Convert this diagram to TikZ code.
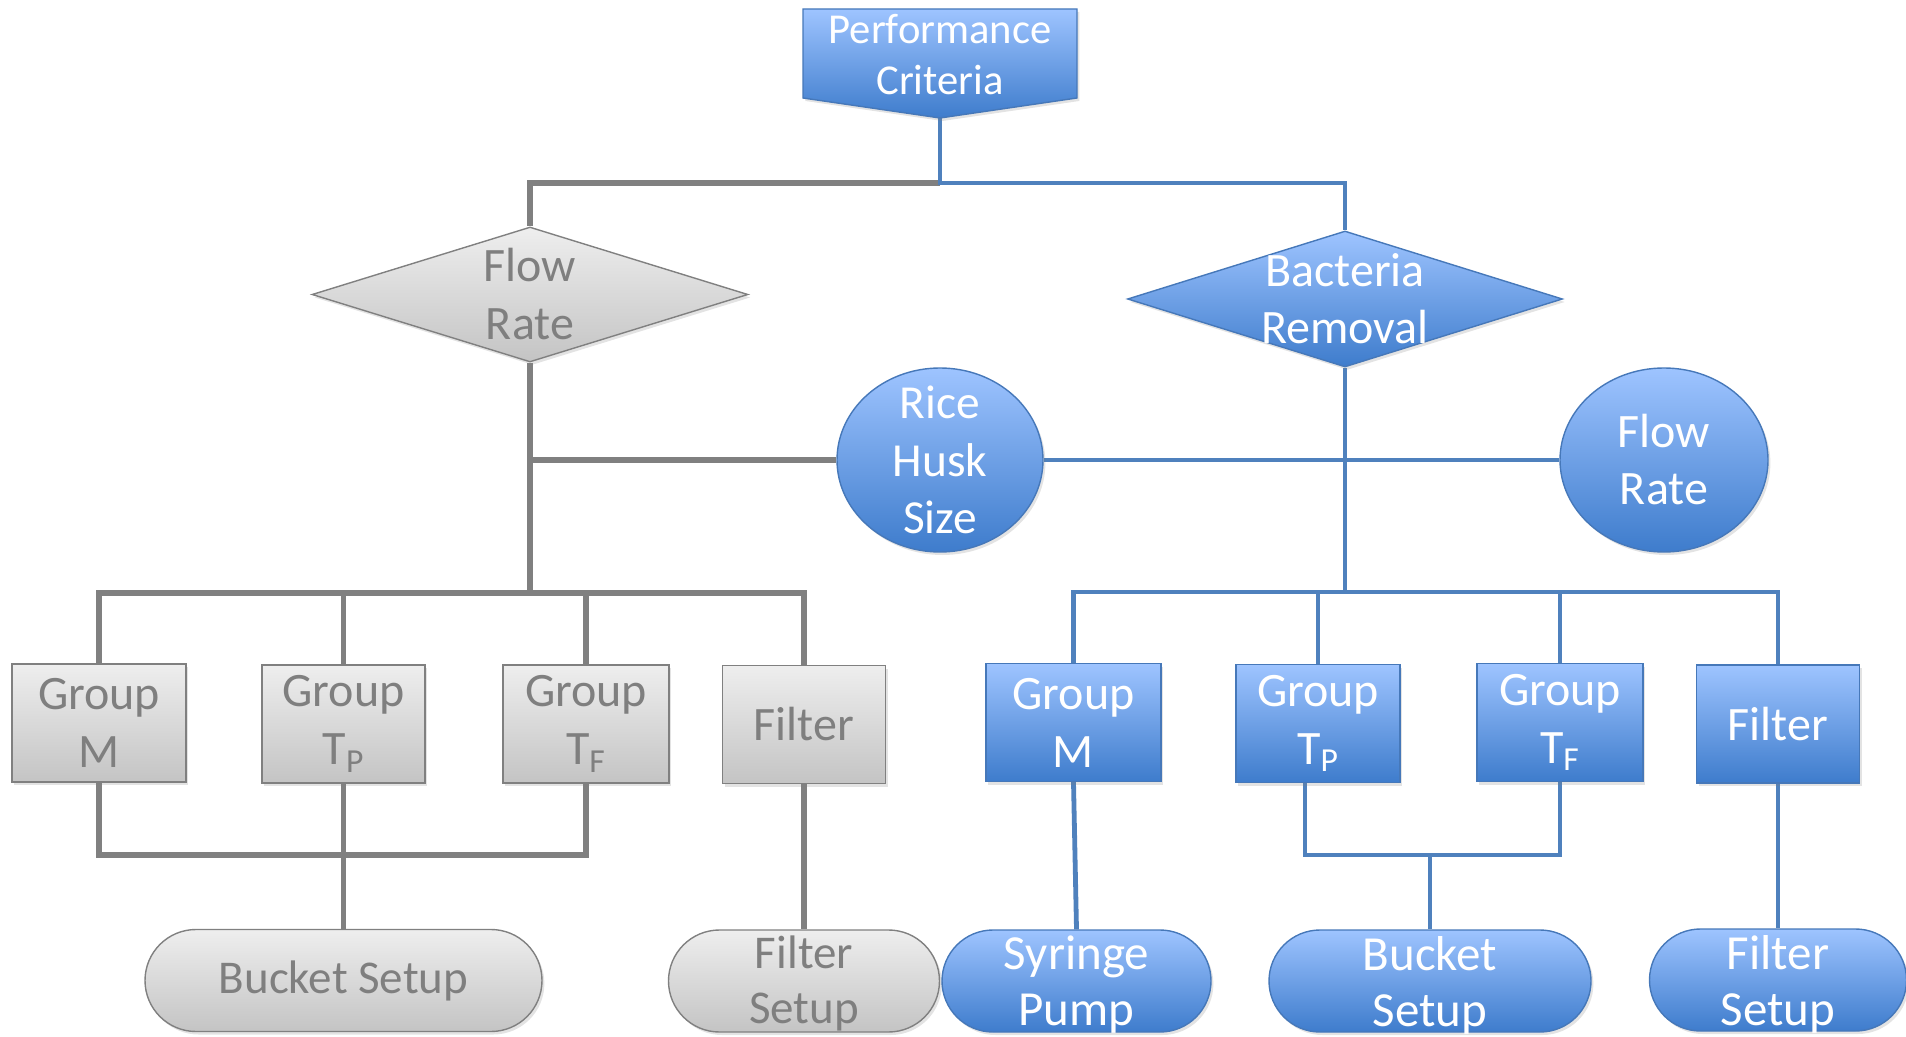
\documentclass[tikz,border=0pt]{standalone}
\usepackage{fontspec}
\setmainfont{Carlito}
\usetikzlibrary{shapes.geometric,shadows,backgrounds}
\definecolor{bluetop}{RGB}{158,196,255}
\definecolor{bluebot}{RGB}{62,124,204}
\definecolor{blueedge}{RGB}{70,120,185}
\definecolor{blueline}{RGB}{79,129,189}
\definecolor{graytop}{RGB}{238,238,238}
\definecolor{graybot}{RGB}{196,196,196}
\definecolor{grayedge}{RGB}{128,128,128}
\definecolor{grayline}{RGB}{128,128,128}
\definecolor{graytxt}{RGB}{127,127,127}
\newcommand\fsz[2]{\fontsize{#1}{#2}\selectfont}
\begin{document}
\begin{tikzpicture}[x=0.5pt,y=-0.5pt,
  shd/.style={drop shadow={shadow xshift=1.2pt,shadow yshift=-1.5pt,opacity=0.22}},
  bluefill/.style={draw=blueedge,line width=0.7pt,top color=bluetop,bottom color=bluebot,shd},
  grayfill/.style={draw=grayedge,line width=0.7pt,top color=graytop,bottom color=graybot,shd},
  btxt/.style={text=white,align=center},
  gtxt/.style={text=graytxt,align=center},
  boxn/.style={rectangle,minimum height=59pt,inner sep=0pt,align=center,font=\fsz{24pt}{29pt}},
  pill/.style={rectangle,rounded corners=25.5pt,minimum height=51pt,inner sep=0pt},
  dia/.style={diamond,inner sep=0pt},
  ell/.style={ellipse,inner sep=0pt,minimum height=92pt},
  gl/.style={draw=grayline,line width=2.8pt},
  bln/.style={draw=blueline,line width=2.4pt},
]
\useasboundingbox (0,0) rectangle (1906,1037);

% top
\path[bluefill] (803,9) -- (1077,9) -- (1077,98) -- (940,118) -- (803,98) -- cycle;
\node[btxt,font=\fsz{21.3pt}{25.5pt},inner sep=0pt] (pc) at (940,55) {Performance\\Criteria};
\coordinate (pcb) at (940,118);
\coordinate (j1) at (940,183);

% diamonds
\node[dia,grayfill,minimum width=218pt,minimum height=67.5pt,
  label={[gtxt,font=\fsz{24pt}{29pt}]center:{Flow\\Rate}}] (fr) at (530,294.5) {};
\node[dia,bluefill,minimum width=217.5pt,minimum height=68pt,
  label={[btxt,font=\fsz{24pt}{28.5pt}]center:{Bacteria\\Removal}}] (br) at (1345,299) {};

% ellipses
\node[ell,bluefill,minimum width=103pt,
  label={[btxt,font=\fsz{23.7pt}{28.8pt}]center:{Rice\\Husk\\Size}}] (rh) at (940,460) {};
\node[ell,bluefill,minimum width=104pt,
  label={[btxt,font=\fsz{24pt}{28.5pt}]center:{Flow\\Rate}}] (fr2) at (1664,460) {};

% gray boxes
\node[boxn,grayfill,gtxt,minimum width=87pt] (gM) at (99,723) {Group\\M};
\node[boxn,grayfill,gtxt,minimum width=81.5pt] (gTp) at (343.5,724) {Group\\T\textsubscript{P}};
\node[boxn,grayfill,gtxt,minimum width=83pt] (gTF) at (586,724) {Group\\T\textsubscript{F}};
\node[boxn,grayfill,gtxt,minimum width=81.5pt] (gF) at (804,724.5) {Filter};

% blue boxes
\node[boxn,bluefill,btxt,minimum width=87.5pt] (bM) at (1073.5,722.5) {Group\\M};
\node[boxn,bluefill,btxt,minimum width=82pt] (bTp) at (1318,723.5) {Group\\T\textsubscript{P}};
\node[boxn,bluefill,btxt,minimum width=83pt] (bTF) at (1560,722.5) {Group\\T\textsubscript{F}};
\node[boxn,bluefill,btxt,minimum width=81.5pt] (bF) at (1778,724) {Filter};

% gray bottoms
\node[pill,grayfill,minimum width=198.5pt,
  label={[gtxt,font=\fsz{23.5pt}{27pt}]center:{Bucket Setup}}] (gBS) at (343.5,980.5) {};
\node[pill,grayfill,minimum width=135.5pt,
  label={[gtxt,font=\fsz{23.5pt}{27.5pt},yshift=-1pt]center:{Filter\\Setup}}] (gFS) at (804,981) {};

% blue bottoms
\node[pill,bluefill,minimum width=134.5pt,
  label={[btxt,font=\fsz{24.5pt}{28pt},yshift=-2pt]center:{Syringe\\Pump}}] (bSyr) at (1076.5,981) {};
\node[pill,bluefill,minimum width=161pt,
  label={[btxt,font=\fsz{24.5pt}{28pt},yshift=-2pt]center:{Bucket\\Setup}}] (bBS) at (1430,981) {};
\node[pill,bluefill,minimum width=128.5pt,
  label={[btxt,font=\fsz{24.5pt}{28pt},yshift=-2pt]center:{Filter\\Setup}}] (bFS) at (1778,980) {};

\coordinate (frb) at (530,593);
\coordinate (brb) at (1345,592);
\coordinate (gj) at (343.5,855);
\coordinate (bj) at (1430,855);

\begin{pgfonlayer}{background}
% gray connectors
\draw[gl] (j1) -| (fr.north);
\draw[gl] (fr.south) -- (frb);
\draw[gl] (rh.west) -- (rh.west -| fr.south);
\draw[gl] (gM.north) -- (gM.north |- frb) -- (gF.north |- frb) -- (gF.north);
\draw[gl] (gTp.north) -- (gTp.north |- frb);
\draw[gl] (gTF.north) -- (gTF.north |- frb);
\draw[gl] (gM.south) -- (gM.south |- gj) -- (gTF.south |- gj) -- (gTF.south);
\draw[gl] (gTp.south) -- (gBS.north);
\draw[gl] (gF.south) -- (gFS.north);
% blue connectors
\draw[bln] (pcb) -- (j1) -| (br.north);
\draw[bln] (br.south) -- (brb);
\draw[bln] (rh.east) -- (fr2.west);
\draw[bln] (bM.north) -- (bM.north |- brb) -- (bF.north |- brb) -- (bF.north);
\draw[bln] (bTp.north) -- (bTp.north |- brb);
\draw[bln] (bTF.north) -- (bTF.north |- brb);
\draw[bln] (bM.south) -- (bSyr.north);
\draw[bln] ([xshift=-6.5pt]bTp.south) |- (bj) -| (bTF.south);
\draw[bln] (bj) -- (bBS.north);
\draw[bln] (bF.south) -- (bFS.north);
\end{pgfonlayer}
\end{tikzpicture}
\end{document}
